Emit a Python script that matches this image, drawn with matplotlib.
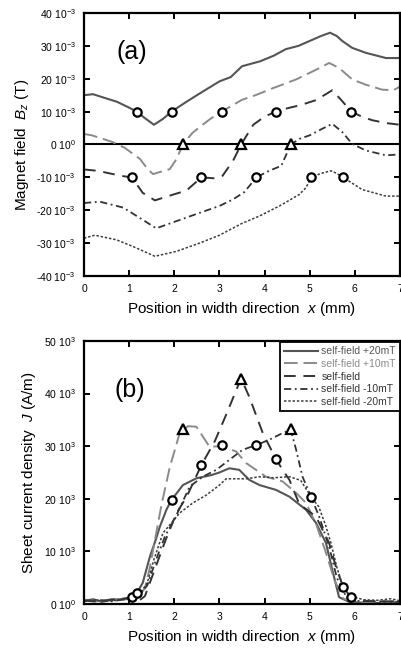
import matplotlib
matplotlib.use("Agg")
import matplotlib.pyplot as plt
import numpy as np

plt.rcParams['font.family'] = ['Liberation Sans', 'DejaVu Sans']
plt.rcParams['mathtext.fontset'] = 'custom'
plt.rcParams['mathtext.rm'] = 'Liberation Sans'
plt.rcParams['mathtext.it'] = 'Liberation Sans:italic'

# ---------------- Panel (a): Bz (mT) ----------------
a_p20_x = [0, 0.2, 0.45, 0.73, 1.0, 1.17, 1.35, 1.55, 1.75, 1.94, 2.27, 2.56, 3.0, 3.25, 3.5, 3.9, 4.2, 4.47, 4.75, 5.0, 5.25, 5.45, 5.6, 5.72, 5.94, 6.24, 6.69, 7.0]
a_p20_y = [15.0, 15.3, 14.2, 13.0, 11.2, 10.0, 8.0, 6.0, 7.8, 10.0, 13.0, 15.5, 19.2, 20.5, 23.8, 25.3, 27.0, 29.0, 30.0, 31.5, 33.0, 34.0, 33.0, 31.5, 29.4, 27.9, 26.3, 26.3]

a_p10_x = [0, 0.17, 0.4, 0.64, 0.9, 1.1, 1.24, 1.41, 1.53, 1.7, 1.9, 2.05, 2.19, 2.4, 2.56, 2.8, 3.05, 3.5, 3.8, 4.18, 4.7, 5.06, 5.25, 5.43, 5.65, 5.94, 6.24, 6.6, 6.85, 7.0]
a_p10_y = [3.2, 2.8, 1.8, 0.7, -1.0, -3.0, -4.4, -7.5, -9.0, -8.3, -7.5, -4.4, 0.0, 3.5, 5.3, 7.8, 10.0, 13.6, 15.0, 17.1, 19.8, 22.2, 23.5, 24.8, 23.3, 19.8, 18.2, 16.7, 16.5, 17.6]

a_sf_x = [0, 0.3, 0.64, 0.85, 1.06, 1.3, 1.57, 1.96, 2.27, 2.6, 2.9, 3.07, 3.3, 3.48, 3.75, 4.0, 4.25, 4.5, 4.8, 5.14, 5.5, 5.7, 5.92, 6.15, 6.38, 6.7, 7.0]
a_sf_y = [-7.6, -8.0, -9.0, -9.6, -10.0, -14.7, -17.0, -15.3, -14.0, -10.0, -10.3, -9.5, -5.0, 0.0, 6.0, 8.5, 10.0, 11.0, 12.0, 13.5, 16.5, 13.5, 10.0, 8.5, 7.4, 6.5, 6.0]

a_m10_x = [0, 0.35, 0.87, 1.3, 1.6, 2.05, 2.56, 3.0, 3.3, 3.55, 3.82, 4.1, 4.37, 4.58, 4.77, 5.0, 5.28, 5.5, 5.72, 5.94, 6.24, 6.69, 7.0]
a_m10_y = [-17.8, -17.4, -19.2, -22.9, -25.5, -23.3, -20.8, -18.7, -16.7, -14.5, -10.0, -8.0, -6.5, 0.0, 1.7, 2.8, 4.8, 6.3, 3.8, 0.2, -1.8, -3.3, -3.0]

a_m20_x = [0, 0.24, 0.72, 1.08, 1.57, 2.05, 2.56, 3.0, 3.5, 3.88, 4.33, 4.77, 4.92, 5.03, 5.25, 5.47, 5.6, 5.74, 6.16, 6.69, 7.0]
a_m20_y = [-28.5, -27.6, -29.0, -31.0, -34.0, -32.5, -30.0, -27.6, -24.0, -21.8, -18.7, -15.2, -13.1, -10.0, -8.8, -8.0, -8.8, -10.0, -13.7, -15.7, -15.7]

a_circ_pos_x = [1.17, 1.94, 3.05, 4.25, 5.92]
a_circ_neg_x = [1.06, 2.6, 3.82, 5.03, 5.74]
a_tri_x = [2.19, 3.48, 4.58]

a_yticks = [-40, -30, -20, -10, 0, 10, 20, 30, 40]

# ---------------- Panel (b): J (kA/m) ----------------
b_p20_x = [0, 0.2, 0.4, 0.6, 0.8, 1.0, 1.17, 1.3, 1.46, 1.6, 1.68, 1.83, 1.94, 2.19, 2.49, 2.82, 3.0, 3.22, 3.44, 3.66, 3.89, 4.25, 4.55, 4.92, 5.14, 5.36, 5.5, 5.65, 5.87, 6.2, 6.6, 7.0]
b_p20_y = [0.6, 0.9, 0.4, 0.8, 0.9, 1.2, 2.1, 4.0, 9.0, 12.5, 14.7, 18.0, 19.8, 22.6, 23.9, 24.5, 25.0, 25.8, 25.5, 23.6, 22.6, 21.7, 20.4, 17.9, 15.4, 11.6, 6.5, 1.3, 0.4, 0.2, 0.2, 0.3]

b_p10_x = [0, 0.3, 0.6, 1.0, 1.2, 1.35, 1.46, 1.6, 1.72, 1.9, 2.12, 2.3, 2.49, 2.78, 3.04, 3.37, 3.59, 3.81, 4.03, 4.4, 4.7, 4.92, 5.15, 5.35, 5.55, 5.75, 6.0, 6.5, 7.0]
b_p10_y = [0.8, 0.5, 0.9, 0.9, 1.2, 3.0, 7.0, 13.5, 19.0, 26.0, 32.5, 33.8, 33.7, 29.9, 30.0, 29.0, 26.8, 25.5, 24.2, 23.3, 21.1, 19.2, 15.0, 10.0, 4.5, 1.0, 0.4, 0.3, 0.5]

b_sf_x = [0, 0.3, 0.6, 0.9, 1.06, 1.2, 1.35, 1.5, 1.8, 2.05, 2.27, 2.6, 2.9, 3.15, 3.48, 3.66, 3.96, 4.25, 4.4, 4.55, 4.77, 5.14, 5.43, 5.58, 5.75, 5.92, 6.2, 6.6, 7.0]
b_sf_y = [0.7, 0.4, 0.8, 1.0, 1.3, 0.5, 1.5, 5.0, 12.0, 17.3, 20.3, 26.4, 31.0, 36.0, 42.9, 39.4, 32.5, 27.6, 25.5, 23.6, 19.0, 16.6, 11.6, 7.1, 3.0, 1.3, 0.6, 0.5, 0.5]

b_m10_x = [0, 0.3, 0.6, 1.0, 1.2, 1.4, 1.6, 1.8, 2.0, 2.34, 2.63, 2.93, 3.22, 3.51, 3.81, 4.1, 4.4, 4.58, 4.7, 4.84, 5.0, 5.21, 5.43, 5.6, 5.8, 6.0, 6.5, 7.0]
b_m10_y = [0.6, 0.8, 0.5, 1.0, 1.5, 3.5, 8.5, 13.0, 16.0, 22.3, 24.2, 25.5, 27.4, 29.3, 30.2, 31.2, 32.5, 33.1, 29.3, 24.2, 21.0, 16.6, 10.9, 5.0, 1.5, 0.6, 0.5, 0.4]

b_m20_x = [0, 0.3, 0.6, 1.0, 1.2, 1.4, 1.55, 1.75, 2.12, 2.41, 2.71, 3.0, 3.15, 3.59, 3.89, 4.2, 4.55, 4.8, 5.03, 5.2, 5.35, 5.47, 5.6, 5.74, 5.9, 6.2, 6.5, 6.8, 7.0]
b_m20_y = [0.5, 0.7, 0.6, 0.9, 1.5, 4.0, 8.5, 13.5, 17.3, 19.2, 20.7, 22.6, 23.8, 23.8, 24.2, 24.0, 24.2, 23.5, 20.4, 18.5, 15.0, 11.6, 7.0, 3.2, 1.5, 0.8, 0.7, 1.0, 0.6]

b_circ_x = [1.06, 1.17, 1.94, 2.6, 3.05, 3.82, 4.25, 5.03, 5.74, 5.92]
b_circ_y = [1.3, 2.1, 19.8, 26.4, 30.2, 30.2, 27.5, 20.3, 3.2, 1.3]
b_tri_x = [2.19, 3.48, 4.58]
b_tri_y = [33.3, 42.7, 33.3]

b_yticks = [0, 10, 20, 30, 40, 50]

labels = ['self-field +20mT', 'self-field +10mT', 'self-field', 'self-field -10mT', 'self-field -20mT']
colors = ['#555555', '#8a8a8a', '#333333', '#333333', '#3c3c3c']
styles = ['-', (0, (7, 3)), (0, (6, 4)), (0, (4, 2, 1, 2)), (0, (1.6, 1.2))]
lws = [1.5, 1.4, 1.4, 1.3, 1.1]

fig = plt.figure(figsize=(4.01, 6.5), dpi=100)
ax1 = fig.add_axes([0.2095, 0.5754, 0.788, 0.4046])
ax2 = fig.add_axes([0.2095, 0.0708, 0.788, 0.4046])

def style_axes(ax):
    for s in ax.spines.values():
        s.set_linewidth(1.6)
    ax.tick_params(direction='in', length=4, width=1.4, top=True, right=True,
                   labelsize=7.5, pad=6)
    ax.set_xlim(0, 7)
    ax.set_xticks(range(0, 8))
    ax.set_xlabel('Position in width direction  $x$ (mm)', fontsize=11, labelpad=4)

# Panel a
ax1.axhline(0, color='black', lw=1.5, zorder=1)
a_data = [(a_p20_x, a_p20_y), (a_p10_x, a_p10_y), (a_sf_x, a_sf_y), (a_m10_x, a_m10_y), (a_m20_x, a_m20_y)]
for (xx, yy), c, ls, lw in zip(a_data, colors, styles, lws):
    ax1.plot(xx, np.array(yy) * 1e-3, color=c, ls=ls, lw=lw, zorder=2)
ax1.plot(a_circ_pos_x, [10e-3] * len(a_circ_pos_x), 'o', ms=6, mfc='white', mec='black', mew=1.6, zorder=4)
ax1.plot(a_circ_neg_x, [-10e-3] * len(a_circ_neg_x), 'o', ms=6, mfc='white', mec='black', mew=1.6, zorder=4)
ax1.plot(a_tri_x, [0] * len(a_tri_x), '^', ms=7, mfc='white', mec='black', mew=1.6, zorder=4)
ax1.set_ylim(-40e-3, 40e-3)
ax1.set_yticks([v * 1e-3 for v in a_yticks])
ax1.set_yticklabels([('0 10$^{0}$' if v == 0 else f'{v} 10$^{{-3}}$') for v in a_yticks])
style_axes(ax1)
ax1.set_ylabel('Magnet field  $B_z$ (T)', fontsize=11, labelpad=4)
ax1.text(0.15, 0.85, '(a)', transform=ax1.transAxes, fontsize=18, ha='center', va='center')

# Panel b
b_data = [(b_p20_x, b_p20_y), (b_p10_x, b_p10_y), (b_sf_x, b_sf_y), (b_m10_x, b_m10_y), (b_m20_x, b_m20_y)]
handles = []
for (xx, yy), c, ls, lw, lab in zip(b_data, colors, styles, lws, labels):
    h, = ax2.plot(xx, np.array(yy) * 1e3, color=c, ls=ls, lw=lw, label=lab, zorder=2)
    handles.append(h)
ax2.plot(b_circ_x, np.array(b_circ_y) * 1e3, 'o', ms=6, mfc='white', mec='black', mew=1.6, zorder=4)
ax2.plot(b_tri_x, np.array(b_tri_y) * 1e3, '^', ms=7, mfc='white', mec='black', mew=1.6, zorder=4)
ax2.set_ylim(0, 50e3)
ax2.set_yticks([v * 1e3 for v in b_yticks])
ax2.set_yticklabels([('0 10$^{0}$' if v == 0 else f'{v} 10$^{{3}}$') for v in b_yticks])
style_axes(ax2)
ax2.set_ylabel('Sheet current density  $J$ (A/m)', fontsize=11, labelpad=4)
ax2.text(0.145, 0.815, '(b)', transform=ax2.transAxes, fontsize=18, ha='center', va='center')

leg = ax2.legend(handles=handles, loc='upper right', bbox_to_anchor=(1.0, 0.995),
                 borderaxespad=0, fontsize=7.5, handlelength=3.3, handletextpad=0.3,
                 labelspacing=0.25, borderpad=0.4, fancybox=False, framealpha=1)
leg.get_frame().set_edgecolor('black')
leg.get_frame().set_linewidth(1.3)
for t, c in zip(leg.get_texts(), colors):
    t.set_color(c)

fig.savefig('out.png', dpi=100)
